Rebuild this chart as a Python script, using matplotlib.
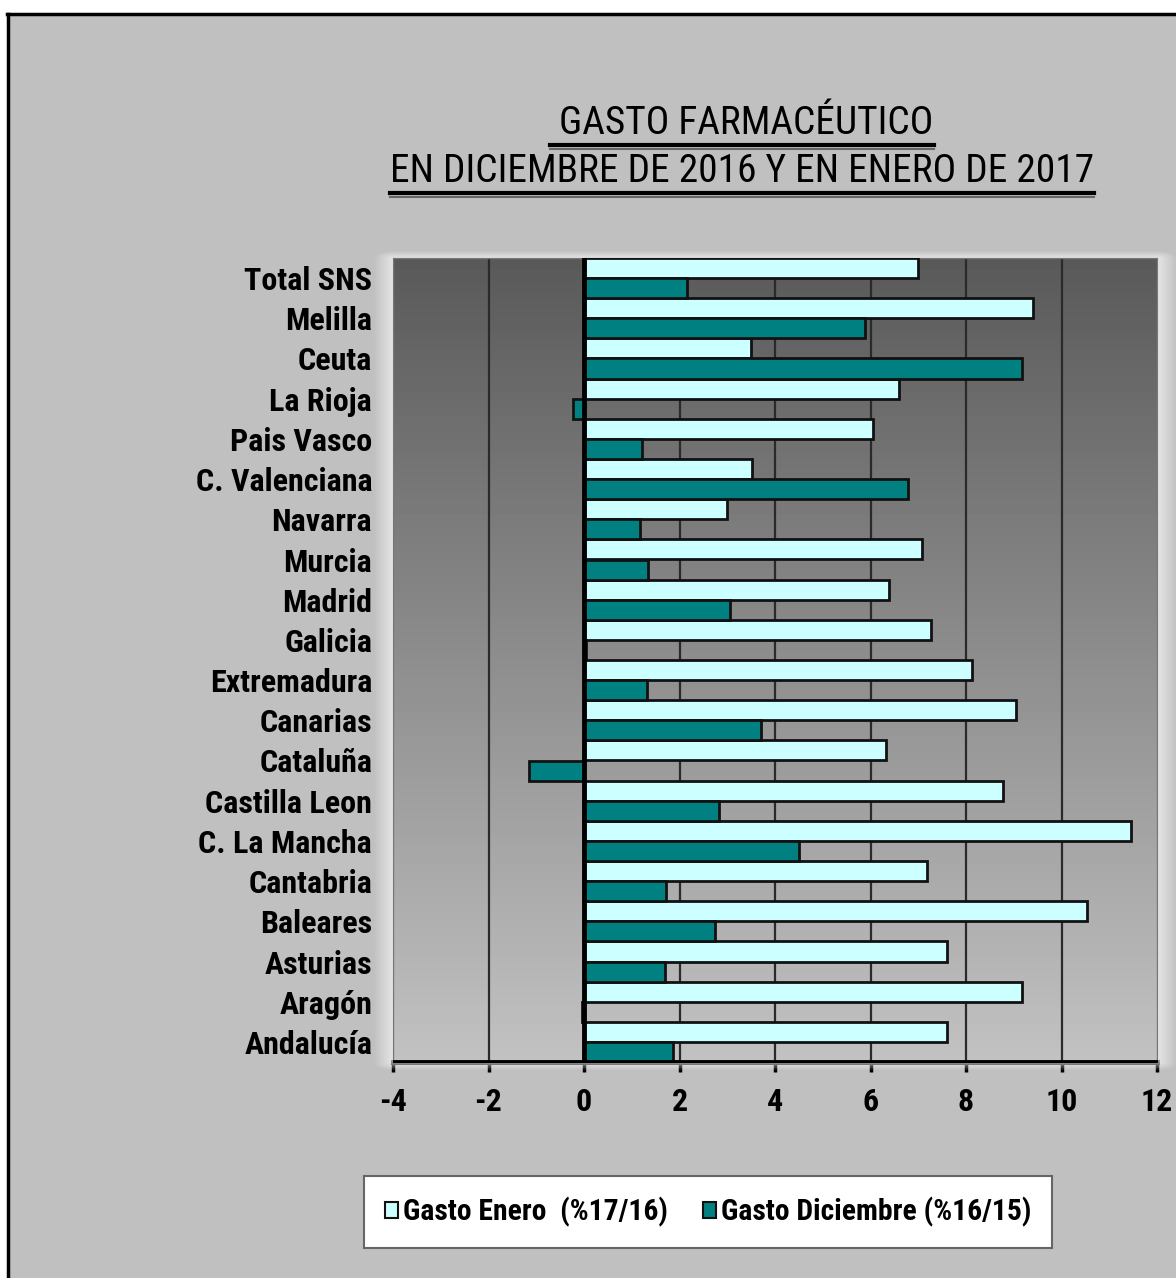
import os
import numpy as np
import matplotlib
matplotlib.use('Agg')
import matplotlib.pyplot as plt
from matplotlib import font_manager as fm
from matplotlib.patches import Rectangle
from matplotlib.lines import Line2D

# --- datos: variacion del gasto farmaceutico por comunidad ---
regiones = ['Total SNS', 'Melilla', 'Ceuta', 'La Rioja', 'Pais Vasco',
            'C. Valenciana', 'Navarra', 'Murcia', 'Madrid', 'Galicia',
            'Extremadura', 'Canarias', 'Cataluña', 'Castilla Leon',
            'C. La Mancha', 'Cantabria', 'Baleares', 'Asturias', 'Aragón',
            'Andalucía']
gasto_enero = [7.0, 9.4, 3.5, 6.6, 6.05, 3.52, 3.0, 7.07, 6.38, 7.26,
               8.12, 9.04, 6.32, 8.77, 11.46, 7.18, 10.53, 7.6, 9.17, 7.6]
gasto_diciembre = [2.15, 5.88, 9.17, -0.23, 1.22, 6.79, 1.18, 1.35, 3.05, 0.05,
                   1.31, 3.70, -1.15, 2.83, 4.51, 1.72, 2.74, 1.69, -0.05, 1.87]
x_ticks = [-4, -2, 0, 2, 4, 6, 8, 10, 12]
etiqueta_enero = 'Gasto Enero  (%17/16)'
etiqueta_diciembre = 'Gasto Diciembre (%16/15)'
titulo_1 = ' GASTO FARMACÉUTICO'
titulo_2 = 'EN DICIEMBRE DE 2016 Y EN ENERO DE 2017'

W, H = 1176, 1278


def fuente_estrecha(negrita):
    """Busca una fuente estrecha instalada; si no hay, usa Liberation Sans."""
    claves = ['liberationsansnarrow', 'arialnarrow', 'robotocondensed',
              'notosans-condensed', 'opensans-condensed', 'opensanscondensed',
              'opensans_condensed', 'dejavusanscondensed']
    peso = 700 if negrita else 400
    for clave in claves:
        for f in fm.fontManager.ttflist:
            nombre = os.path.basename(f.fname).lower().replace(' ', '')
            if clave not in nombre or 'italic' in nombre or 'oblique' in nombre:
                continue
            w = f.weight if isinstance(f.weight, int) else fm.weight_dict.get(f.weight, 400)
            if w == peso:
                return fm.FontProperties(fname=f.fname)
    return fm.FontProperties(family='Liberation Sans',
                             weight='bold' if negrita else 'normal')


fp_bold = fuente_estrecha(True)
fp_reg = fuente_estrecha(False)

fig = plt.figure(figsize=(W / 100, H / 100), dpi=100)
fig.patch.set_facecolor('#c0c0c0')
r = fig.canvas.get_renderer()


def tam_para(texto, fp, ancho_px, maximo):
    # tamano de letra para que el texto ocupe un ancho dado
    p = fp.copy()
    p.set_size(20)
    w, _, _ = r.get_text_width_height_descent(texto, p, ismath=False)
    return min(maximo, 20 * ancho_px / w)


def con_tam(fp, tam):
    p = fp.copy()
    p.set_size(tam)
    return p


tam_etq = tam_para('C. Valenciana', fp_bold, 190, 23)
tam_tit = tam_para(titulo_2, fp_reg, 703, 30)
tam_ley = tam_para(etiqueta_enero, fp_bold, 265, 23)

# marco exterior
fig.add_artist(Rectangle((0, 1 - 13 / H), 1, 13 / H, transform=fig.transFigure,
                         facecolor='white', edgecolor='none'))
fig.add_artist(Rectangle((0, 0), 7 / W, 1, transform=fig.transFigure,
                         facecolor='white', edgecolor='none'))
fig.add_artist(Line2D([7 / W, 1], [1 - 14 / H, 1 - 14 / H], transform=fig.transFigure,
                      color='black', lw=2.5))
fig.add_artist(Line2D([8 / W, 8 / W], [0, 1 - 14 / H], transform=fig.transFigure,
                      color='black', lw=2.5))

x0, x1, y0, y1 = 393, 1157, 258, 1062
ax = fig.add_axes([x0 / W, 1 - y1 / H, (x1 - x0) / W, (y1 - y0) / H])

# halo claro a los lados del area de trazado
yy, xx = np.mgrid[0:H, 0:W]
dx = np.maximum(np.maximum(x0 - xx, xx - x1), 0)
dy = np.maximum(np.maximum(y0 - yy, yy - y1), 0)
d = np.hypot(dx, 2.5 * dy)
halo = np.zeros((H, W, 4))
halo[..., :3] = 1.0
halo[..., 3] = np.clip(1 - d / 20.0, 0, 1) * 0.6
halo[d == 0, 3] = 0
fig.figimage(halo, 0, 0, zorder=0, origin='upper')

# fondo degradado del area de trazado
grad = np.linspace(0.35, 0.76, 256).reshape(-1, 1)
ax.imshow(grad, cmap='gray', vmin=0, vmax=1, aspect='auto',
          extent=(-4, 12, 19.5, -0.5), zorder=0, interpolation='bilinear')

y = np.arange(len(regiones))
alto = 0.5
ax.barh(y - alto / 2, gasto_enero, height=alto, color='#ccffff',
        edgecolor='#111111', linewidth=2, zorder=3, label=etiqueta_enero)
ax.barh(y + alto / 2, gasto_diciembre, height=alto, color='#008080',
        edgecolor='#111111', linewidth=2, zorder=3, label=etiqueta_diciembre)

for xv in x_ticks[1:-1]:
    if xv != 0:
        ax.axvline(xv, color='#2a2a2a', lw=1.6, zorder=1)
ax.axvline(0, color='black', lw=3.5, zorder=4)

ax.set_xlim(-4, 12)
ax.set_ylim(19.5, -0.5)
ax.set_xticks(x_ticks)
ax.set_xticklabels([str(v) for v in x_ticks])
ax.set_yticks(y)
ax.set_yticklabels(regiones)
for lab in ax.get_xticklabels() + ax.get_yticklabels():
    lab.set_fontproperties(con_tam(fp_bold, tam_etq))
ax.tick_params(axis='y', length=0, pad=15)
ax.tick_params(axis='x', direction='out', length=7, width=2.5, pad=11)

for lado in ['top', 'right', 'left']:
    ax.spines[lado].set_color('#777777')
    ax.spines[lado].set_linewidth(1)
ax.spines['bottom'].set_color('black')
ax.spines['bottom'].set_linewidth(3.5)
ax.spines['bottom'].set_zorder(5)

# titulo subrayado
t1 = fig.text(742 / W, 1 - 124 / H, titulo_1, fontproperties=con_tam(fp_reg, tam_tit),
              ha='center', va='center')
t2 = fig.text(742 / W, 1 - 172 / H, titulo_2, fontproperties=con_tam(fp_reg, tam_tit),
              ha='center', va='center')
fig.canvas.draw()
for t, ylin in [(t1, 145), (t2, 193)]:
    bb = t.get_window_extent(r)
    fig.add_artist(Line2D([bb.x0 / W, bb.x1 / W], [1 - ylin / H, 1 - ylin / H],
                          transform=fig.transFigure, color='black', lw=3))
    fig.add_artist(Line2D([bb.x0 / W, bb.x1 / W], [1 - (ylin + 4) / H, 1 - (ylin + 4) / H],
                          transform=fig.transFigure, color='#666666', lw=1.5))

leg = fig.legend(loc='center', ncol=2,
                 bbox_to_anchor=(708 / W, 1 - 1212 / H),
                 prop=con_tam(fp_bold, tam_ley),
                 frameon=True, fancybox=False, edgecolor='#666666',
                 facecolor='white', framealpha=1, handlelength=0.45,
                 handleheight=0.45, handletextpad=0.15, columnspacing=1.2,
                 borderpad=0.7, borderaxespad=0)
leg.get_frame().set_linewidth(1.5)
for h in leg.legend_handles:
    h.set_linewidth(1.5)

fig.savefig('out.png', dpi=100, facecolor=fig.get_facecolor())
